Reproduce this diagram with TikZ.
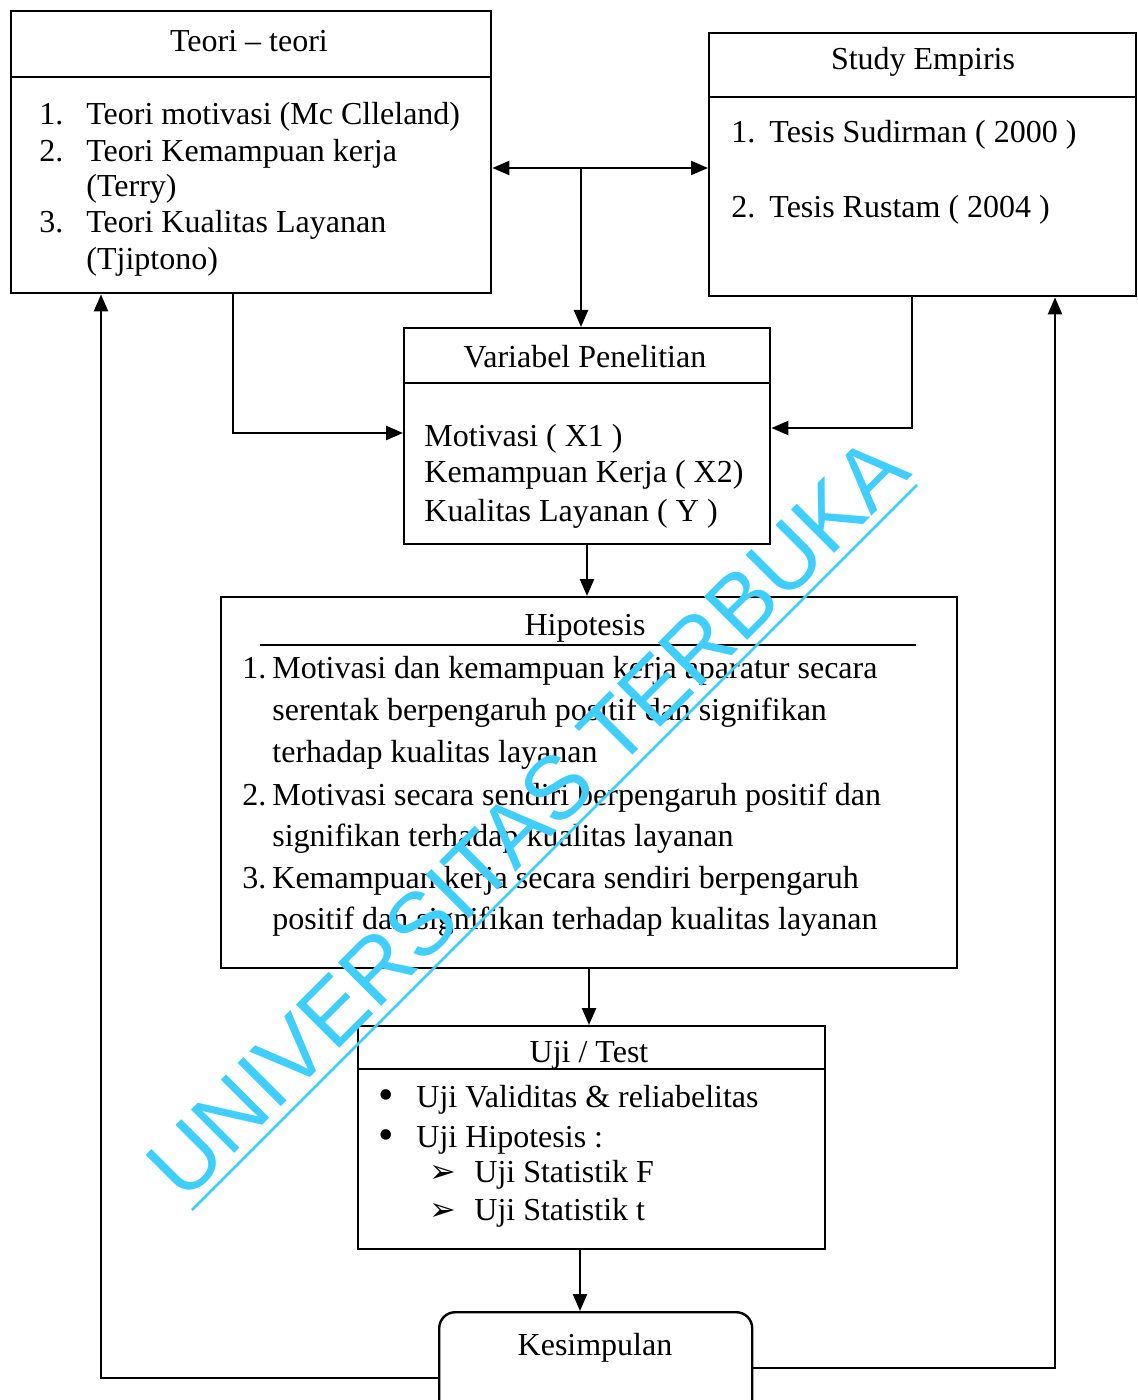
\documentclass[tikz,border=0pt]{standalone}
\usepackage{fontspec}
\setmainfont{Liberation Serif}
\newfontfamily\wmfont{Liberation Sans}
\newfontfamily\symfont{DejaVu Sans}
\usetikzlibrary{arrows.meta}
\definecolor{wmblue}{RGB}{64,206,255}
\begin{document}
\begin{tikzpicture}[x=0.5pt,y=-0.5pt,
  box/.style={draw, line width=1.2pt, anchor=north west, inner sep=0pt},
  txt/.style={anchor=base west, inner sep=0pt, font=\fontsize{16}{19}\selectfont},
  ttl/.style={anchor=base, inner sep=0pt, font=\fontsize{16}{19}\selectfont},
  rule/.style={line width=1.2pt},
  conn/.style={line width=1.2pt, -{Triangle[length=8.5pt,width=7pt]}},
  wmline/.style={draw=wmblue, line width=1.4pt}]
\useasboundingbox (0,0) rectangle (1137,1400);
\fill[white] (0,0) rectangle (1137,1400);
\clip (0,0) rectangle (1137,1400);

% ---- boxes
\node[box, minimum width=240pt, minimum height=141pt] (T) at (10,10) {};
\node[box, minimum width=213.5pt, minimum height=131.5pt] (S) at (708,32) {};
\node[box, minimum width=183pt, minimum height=108pt] (V) at (403,327) {};
\node[box, minimum width=368pt, minimum height=185.5pt] (H) at (220,596) {};
\node[box, minimum width=233.5pt, minimum height=111.5pt] (U) at (357,1025) {};
\node[box, rounded corners=8pt, minimum width=156.5pt, minimum height=60pt] (K) at (438,1311) {};

% ---- dividers
\coordinate (dT) at (0,77);
\coordinate (dS) at (0,97);
\coordinate (dV) at (0,383);
\coordinate (dU) at (0,1069);
\coordinate (hl) at (260,645);
\coordinate (hr) at (916,645);
\draw[rule] (T.west |- dT) -- (T.east |- dT);
\draw[rule] (S.west |- dS) -- (S.east |- dS);
\draw[rule] (V.west |- dV) -- (V.east |- dV);
\draw[rule] (U.west |- dU) -- (U.east |- dU);
\draw[line width=0.9pt] (hl) -- (hr);

% ---- Teori
\node[ttl] (tT) at (249,52) {Teori -- teori};
\node[txt] (t1n) at (39,125) {1.};
\node[txt] (t1) at (86,125) {Teori motivasi (Mc Clleland)};
\node[txt] (t2n) at (39,162) {2.};
\node[txt] (t2) at (86,162) {Teori Kemampuan kerja};
\node[txt] (t2b) at (86,197) {(Terry)};
\node[txt] (t3n) at (39,233) {3.};
\node[txt] (t3) at (86,233) {Teori Kualitas Layanan};
\node[txt] (t3b) at (86,270) {(Tjiptono)};

% ---- Study Empiris
\node[ttl] (tS) at (923,70) {Study Empiris};
\node[txt] (s1n) at (731,143) {1.};
\node[txt] (s1) at (769,143) {Tesis Sudirman ( 2000 )};
\node[txt] (s2n) at (731,218) {2.};
\node[txt] (s2) at (769,218) {Tesis Rustam ( 2004 )};

% ---- Variabel
\node[ttl] (tV) at (585,368) {Variabel Penelitian};
\node[txt] (v1) at (424,447) {Motivasi ( X1 )};
\node[txt] (v2) at (424,483) {Kemampuan Kerja ( X2)};
\node[txt] (v3) at (424,522) {Kualitas Layanan ( Y )};

% ---- Hipotesis
\node[ttl] (tH) at (585,635) {Hipotesis};
\node[txt] (h1n) at (242,678) {1.};
\node[txt] (h1) at (272,678) {Motivasi dan kemampuan kerja aparatur secara};
\node[txt] (h1b) at (272,720) {serentak berpengaruh positif dan signifikan};
\node[txt] (h1c) at (272,762) {terhadap kualitas layanan};
\node[txt] (h2n) at (242,805) {2.};
\node[txt] (h2) at (272,805) {Motivasi secara sendiri berpengaruh positif dan};
\node[txt] (h2b) at (272,846) {signifikan terhadap kualitas layanan};
\node[txt] (h3n) at (242,888) {3.};
\node[txt] (h3) at (272,888) {Kemampuan kerja secara sendiri berpengaruh};
\node[txt] (h3b) at (272,929) {positif dan signifikan terhadap kualitas layanan};

% ---- Uji
\node[ttl] (tU) at (589,1062) {Uji / Test};
\node[txt] (u1m) at (378,1109) {\fontsize{22}{22}\selectfont •};
\node[txt] (u1) at (416,1107) {Uji Validitas \& reliabelitas};
\node[txt] (u2m) at (378,1149) {\fontsize{22}{22}\selectfont •};
\node[txt] (u2) at (416,1147) {Uji Hipotesis :};
\node[txt] (u3m) at (429,1182) {\symfont ➢};
\node[txt] (u3) at (474,1182) {Uji Statistik F};
\node[txt] (u4m) at (429,1220) {\symfont ➢};
\node[txt] (u4) at (474,1220) {Uji Statistik t};

% ---- Kesimpulan
\node[ttl] (tK) at (595,1355) {Kesimpulan};

% ---- connectors
\coordinate (j) at (581,168);
\draw[conn] (j) -- (j -| T.east);
\draw[conn] (j) -- (j -| S.west);
\draw[conn] (j) -- (j |- V.north);
\coordinate (tl) at (233,433);
\draw[conn] (tl |- T.south) -- (tl) -- (tl -| V.west);
\coordinate (sr) at (912,428);
\draw[conn] (sr |- S.south) -- (sr) -- (sr -| V.east);
\coordinate (vh) at (587,0);
\draw[conn] (vh |- V.south) -- (vh |- H.north);
\coordinate (hu) at (589,0);
\draw[conn] (hu |- H.south) -- (hu |- U.north);
\coordinate (uk) at (580,0);
\draw[conn] (uk |- U.south) -- (uk |- K.north);
\coordinate (kl) at (101,1378);
\draw[conn] (kl -| K.west) -- (kl) -- (kl |- T.south);
\coordinate (kr) at (1055,1368);
\draw[conn] (kr -| K.east) -- (kr) -- (kr |- S.south);

% ---- watermark
\node[rotate=45, anchor=base, inner sep=0pt, text=wmblue,
      font=\wmfont\fontsize{44.5}{50}\selectfont] (wm) at (549,839) {UNIVERSITAS TERBUKA};
\coordinate (wa) at (192,1210);
\coordinate (wb) at (917,485);
\draw[wmline] (wa) -- (wb);
\end{tikzpicture}
\end{document}
